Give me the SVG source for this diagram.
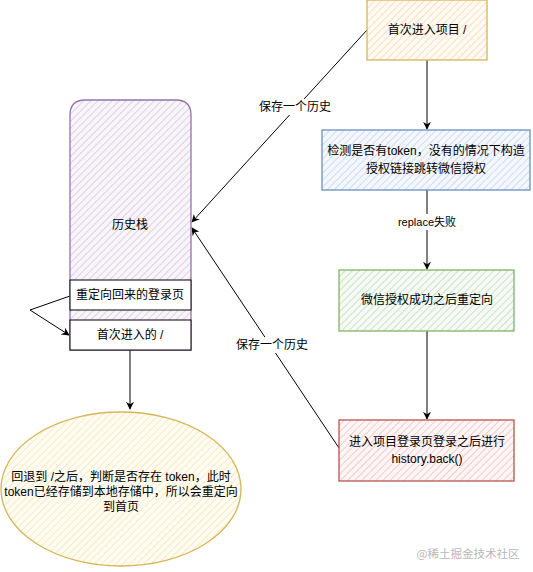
<svg xmlns="http://www.w3.org/2000/svg" width="533" height="572" viewBox="0 0 533 572">
<defs>
<pattern id="hOrange" width="5" height="5" patternUnits="userSpaceOnUse" patternTransform="rotate(45)"><rect width="5" height="5" fill="#fffaf2"/><line x1="0" y1="0" x2="0" y2="5" stroke="#f8d8b8" stroke-width="1.6"/></pattern>
<pattern id="hBlue" width="5" height="5" patternUnits="userSpaceOnUse" patternTransform="rotate(45)"><rect width="5" height="5" fill="#f4f8fe"/><line x1="0" y1="0" x2="0" y2="5" stroke="#c3d5ee" stroke-width="1.6"/></pattern>
<pattern id="hGreen" width="5" height="5" patternUnits="userSpaceOnUse" patternTransform="rotate(45)"><rect width="5" height="5" fill="#f5faf4"/><line x1="0" y1="0" x2="0" y2="5" stroke="#c6dcc2" stroke-width="1.6"/></pattern>
<pattern id="hRed" width="5" height="5" patternUnits="userSpaceOnUse" patternTransform="rotate(45)"><rect width="5" height="5" fill="#fef6f6"/><line x1="0" y1="0" x2="0" y2="5" stroke="#f1c2c0" stroke-width="1.6"/></pattern>
<pattern id="hPurple" width="5" height="5" patternUnits="userSpaceOnUse" patternTransform="rotate(45)"><rect width="5" height="5" fill="#f8f5f9"/><line x1="0" y1="0" x2="0" y2="5" stroke="#d8cadf" stroke-width="1.6"/></pattern>
<pattern id="hYellow" width="5" height="5" patternUnits="userSpaceOnUse" patternTransform="rotate(45)"><rect width="5" height="5" fill="#fffcf2"/><line x1="0" y1="0" x2="0" y2="5" stroke="#f6e6be" stroke-width="1.6"/></pattern>
<marker id="arr" viewBox="0 0 10 10" refX="9" refY="5" markerWidth="8" markerHeight="8" orient="auto" markerUnits="userSpaceOnUse"><path d="M0,0 L10,5 L0,10 L3,5 Z" fill="#000"/></marker>
</defs>
<style>
text{font-family:"Liberation Sans","Noto Sans CJK SC",sans-serif;font-size:12px;fill:#000;text-anchor:middle;dominant-baseline:central}
.small{font-family:"Liberation Sans","Noto Sans CJK SC",sans-serif;font-size:11px}
.wm{font-family:"Noto Sans CJK SC",sans-serif;font-size:11.5px;fill:#b8b8b8}
.edge{fill:none;stroke:#000;stroke-width:1}
.lbl{fill:#fff}
</style>
<g id="edges">
<line class="edge" x1="427" y1="60" x2="427" y2="129" marker-end="url(#arr)"/>
<line class="edge" x1="427" y1="190" x2="427" y2="269" marker-end="url(#arr)"/>
<line class="edge" x1="427" y1="331" x2="427" y2="419" marker-end="url(#arr)"/>
<line class="edge" x1="367" y1="30" x2="192" y2="222" marker-end="url(#arr)"/>
<line class="edge" x1="339" y1="448" x2="192" y2="228" marker-end="url(#arr)"/>
<line class="edge" x1="130" y1="350" x2="130" y2="409" marker-end="url(#arr)"/>
<polyline class="edge" points="70,296 30,310 69,335" marker-end="url(#arr)"/>
<rect class="lbl" x="258" y="99" width="74" height="16"/>
<text x="295" y="107">保存一个历史</text>
<rect class="lbl" x="235" y="337" width="74" height="16"/>
<text x="272" y="345">保存一个历史</text>
<rect class="lbl" x="393" y="214" width="68" height="16"/>
<text class="small" x="427" y="222">replace失败</text>
</g>
<g id="start">
<rect x="367" y="0" width="120" height="60" fill="url(#hOrange)" stroke="#d6b656" stroke-width="1.3"/>
<text x="427" y="30">首次进入项目 /</text>
</g>
<g id="check">
<rect x="322" y="130" width="208" height="60" fill="url(#hBlue)" stroke="#6c8ebf" stroke-width="1.3"/>
<text x="426" y="151">检测是否有token，没有的情况下构造</text>
<text x="426" y="169">授权链接跳转微信授权</text>
</g>
<g id="wechat">
<rect x="339" y="270" width="175" height="61" fill="url(#hGreen)" stroke="#82b366" stroke-width="1.3"/>
<text x="427" y="300">微信授权成功之后重定向</text>
</g>
<g id="login">
<rect x="339" y="420" width="175" height="61" fill="url(#hRed)" stroke="#b85450" stroke-width="1.3"/>
<text x="427" y="442">进入项目登录页登录之后进行</text>
<text x="427" y="459">history.back()</text>
</g>
<g id="stack">
<path d="M70,350 L70,115 Q70,100 85,100 L176,100 Q191,100 191,115 L191,350 Z" fill="url(#hPurple)" stroke="#9673a6" stroke-width="1.3"/>
<text x="130" y="225">历史栈</text>
</g>
<g id="redirected">
<rect x="70" y="280" width="121" height="30" fill="#fff" stroke="#000" stroke-width="1"/>
<text x="130" y="295">重定向回来的登录页</text>
</g>
<g id="first">
<rect x="70" y="320" width="121" height="30" fill="#fff" stroke="#000" stroke-width="1"/>
<text x="130" y="335">首次进入的 /</text>
</g>
<g id="result">
<ellipse cx="121" cy="489" rx="120" ry="77" fill="url(#hYellow)" stroke="#d6b656" stroke-width="1.3"/>
<text x="121" y="477">回退到 /之后，判断是否存在 token，此时</text>
<text x="121" y="492">token已经存储到本地存储中，所以会重定向</text>
<text x="121" y="507">到首页</text>
</g>
<text class="wm" x="468" y="553">@稀土掘金技术社区</text>
</svg>
